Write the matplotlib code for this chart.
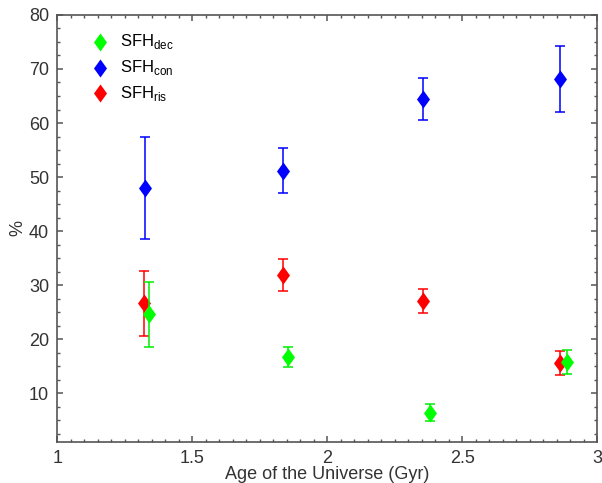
import matplotlib
matplotlib.use('Agg')
import matplotlib.pyplot as plt
from matplotlib.ticker import MultipleLocator, FormatStrFormatter

plt.rcParams['font.family'] = ['Liberation Sans', 'DejaVu Sans']
plt.rcParams['mathtext.fontset'] = 'custom'
plt.rcParams['mathtext.rm'] = 'Liberation Sans'

# age of the universe (Gyr) for each bin, per series (small offsets as in the original)
age_dec = [1.341, 1.854, 2.381, 2.889]
age_con = [1.325, 1.835, 2.356, 2.864]
age_ris = [1.320, 1.835, 2.356, 2.862]

# fractions (%) and 1-sigma errors
pct_dec = [24.6, 16.7, 6.4, 15.8]
err_dec = [6.0, 1.9, 1.5, 2.2]
pct_con = [48.0, 51.2, 64.5, 68.2]
err_con = [9.5, 4.2, 3.9, 6.1]
pct_ris = [26.6, 31.9, 27.0, 15.6]
err_ris = [6.0, 3.0, 2.2, 2.2]

diamond = [(0, -1), (0.72, 0), (0, 1), (-0.72, 0), (0, -1)]

fig = plt.figure(figsize=(6.02, 4.83), dpi=100)
ax = fig.add_axes([0.0952, 0.0855, 0.8968, 0.8835])

common = dict(fmt='none', capsize=3.4, elinewidth=1.1, capthick=1.1)
ax.errorbar(age_con, pct_con, yerr=err_con, ecolor='#0000ff', zorder=2, **common)
ax.errorbar(age_ris, pct_ris, yerr=err_ris, ecolor='#ff0000', zorder=2, **common)
ax.errorbar(age_dec, pct_dec, yerr=err_dec, ecolor='#00ee00', zorder=4, **common)
h_con = ax.scatter(age_con, pct_con, marker=diamond, s=13**2, color='#0000ff', linewidths=0, zorder=3)
h_ris = ax.scatter(age_ris, pct_ris, marker=diamond, s=13**2, color='#ff0000', linewidths=0, zorder=3)
h_dec = ax.scatter(age_dec, pct_dec, marker=diamond, s=13**2, color='#00ff00', linewidths=0, zorder=5)

ax.legend([h_dec, h_con, h_ris],
          [r'SFH$_{\rm dec}$', r'SFH$_{\rm con}$', r'SFH$_{\rm ris}$'],
          loc='upper left', bbox_to_anchor=(0.035, 0.975), frameon=False,
          fontsize=12, handletextpad=0.2, labelspacing=0.4, borderaxespad=0)

ax.set_xlim(1, 3)
ax.set_ylim(1, 80)
ax.xaxis.set_major_locator(MultipleLocator(0.5))
ax.xaxis.set_minor_locator(MultipleLocator(0.05))
ax.xaxis.set_major_formatter(FormatStrFormatter('%g'))
ax.set_yticks([10, 20, 30, 40, 50, 60, 70, 80])
ax.yaxis.set_minor_locator(MultipleLocator(2.5))

for s in ax.spines.values():
    s.set_color('#555555')
    s.set_linewidth(1.2)
ax.tick_params(which='both', direction='in', top=True, right=True, colors='#555555',
               labelcolor='#333333', labelsize=13)
ax.tick_params(which='major', length=4.5, width=1.1, pad=6)
ax.tick_params(which='minor', length=2.5, width=1.0)

ax.set_xlabel('Age of the Universe (Gyr)', fontsize=13, color='#333333', labelpad=-1)
ax.set_ylabel('%', fontsize=13, color='#333333', labelpad=2)

fig.savefig('out.png', dpi=100)
